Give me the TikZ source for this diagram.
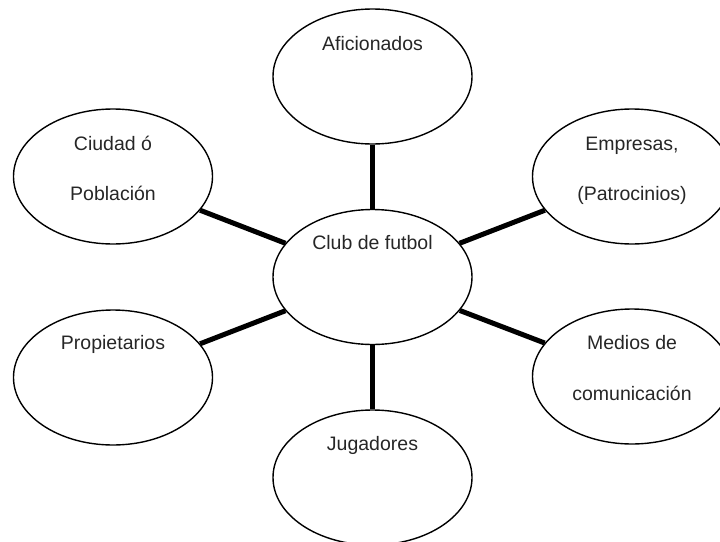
\documentclass[tikz,border=0pt]{standalone}
\usepackage{fontspec}
\setmainfont{Liberation Sans}
\usetikzlibrary{shapes.geometric}
\begin{document}
\begin{tikzpicture}[x=1pt,y=-1pt,
  oval/.style={draw=black,line width=1.4pt,ellipse,minimum width=199pt,minimum height=135pt,inner sep=0pt},
  lbl/.style={anchor=base,inner sep=0pt,font=\fontsize{19.5}{23}\selectfont,text=black!85},
  link/.style={draw=black,line width=5pt}]
\useasboundingbox (0,0) rectangle (720,541);
\node[oval] (club) at (372.5,277) {};
\node[oval] (afi) at (372.5,76.5) {};
\node[oval] (ciu) at (113,176.5) {};
\node[oval] (emp) at (632,176.5) {};
\node[oval] (pro) at (113,377.5) {};
\node[oval] (med) at (632,376.5) {};
\node[oval] (jug) at (372.5,477.5) {};
\draw[link] (club) -- (afi);
\draw[link] (club) -- (ciu);
\draw[link] (club) -- (emp);
\draw[link] (club) -- (pro);
\draw[link] (club) -- (med);
\draw[link] (club) -- (jug);
\node[lbl] (tclub) at (372.5,249) {Club de futbol};
\node[lbl] (tafi) at (372.5,50) {Aficionados};
\node[lbl] (tciu1) at (113,150) {Ciudad ó};
\node[lbl] (tciu2) at (113,200) {Población};
\node[lbl] (temp1) at (632,150) {Empresas,};
\node[lbl] (temp2) at (632,200) {(Patrocinios)};
\node[lbl] (tpro) at (113,349) {Propietarios};
\node[lbl] (tmed1) at (632,349) {Medios de};
\node[lbl] (tmed2) at (632,400) {comunicación};
\node[lbl] (tjug) at (372.5,450) {Jugadores};
\end{tikzpicture}
\end{document}
